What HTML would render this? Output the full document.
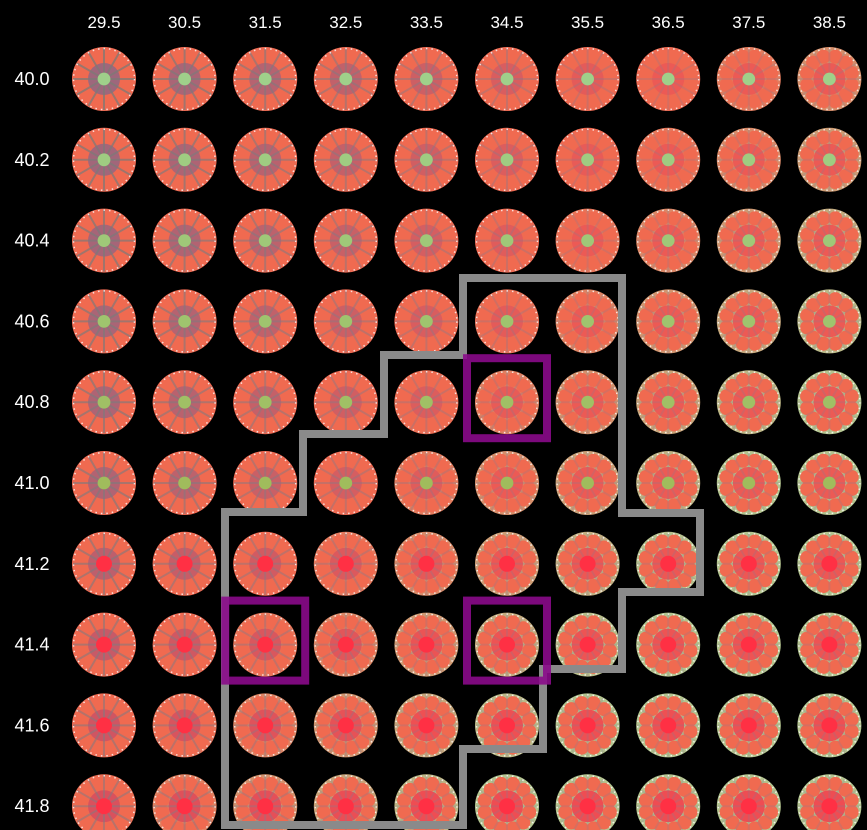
<!DOCTYPE html>
<html><head><meta charset="utf-8">
<style>
html,body{margin:0;padding:0;background:#000;width:867px;height:830px;overflow:hidden}
svg{display:block}
text{font-family:"Liberation Sans",sans-serif;fill:#fff}
</style></head>
<body>
<svg id="chart" width="867" height="830" viewBox="0 0 867 830" xmlns="http://www.w3.org/2000/svg">
<rect width="867" height="830" fill="#000"/>
<g id="cells"></g>
<g id="labels"></g>
<path id="region" fill="none" stroke="#8a8a8a" stroke-width="8" stroke-linejoin="miter"
 d="M463,278 L622,278 L622,513 L700,513 L700,592 L622,592 L622,669 L543,669 L543,749 L463,749 L463,825 L225,825 L225,512 L303,512 L303,434 L384,434 L384,355 L463,355 Z"/>
<g id="marks"></g>
</svg>
<script>
const colLabels = ["29.5","30.5","31.5","32.5","33.5","34.5","35.5","36.5","37.5","38.5"];
const rowLabels = ["40.0","40.2","40.4","40.6","40.8","41.0","41.2","41.4","41.6","41.8"];
const highlightCells = [[4,5],[7,2],[7,5]]; // [row, col]

const NS="http://www.w3.org/2000/svg";
function mk(tag,attrs,parent){const e=document.createElementNS(NS,tag);for(const k in attrs)e.setAttribute(k,attrs[k]);parent.appendChild(e);return e;}
const x0=104, dx=80.6, y0=79, dy=80.8, R=32;
function xPos(c){return x0+c*dx;}
function yPos(r){return y0+r*dy;}
function mix(a,b,t){const p=s=>[1,3,5].map(i=>parseInt(s.substr(i,2),16));const A=p(a),B=p(b);
  return "#"+A.map((v,i)=>Math.round(v+(B[i]-v)*t).toString(16).padStart(2,"0")).join("");}

const cells=document.getElementById('cells');
const labels=document.getElementById('labels');
colLabels.forEach((l,c)=>{
  const t=mk('text',{x:xPos(c),y:28,'text-anchor':'middle','font-size':'17'},labels);
  t.textContent=l;
  
  
});
rowLabels.forEach((l,r)=>{
  const t=mk('text',{x:32,y:yPos(r)+6,'text-anchor':'middle','font-size':'18'},labels);
  t.textContent=l;
  
  
});
rowLabels.forEach((rl,r)=>{
  colLabels.forEach((cl,c)=>{
    const cx=xPos(c), cy=yPos(r);
    const g=mk('g',{},cells);
    
    
    const green=Math.max(0,Math.min(1,(c+r*0.8-7)/5));
    const purple=Math.max(0,Math.min(1,(4-c*0.6-r*0.2)/4));
    mk('circle',{cx,cy,r:R,fill:mix("#ee6a52","#a8d49a",green*0.85)},g);
    for(let i=0;i<12;i++){const a=i*Math.PI/6+Math.PI/12;
      mk('circle',{cx:cx+Math.cos(a)*R*0.72,cy:cy+Math.sin(a)*R*0.72,r:R*0.22,fill:"#f06a50"},g);}
    const inner=mix(mix("#ec5a55","#7d6c8c",purple*0.7),"#f04050",Math.max(0,(r-5)/4)*0.5);
    mk('circle',{cx,cy,r:R*0.5,fill:inner},g);
    for(let i=0;i<12;i++){const a=i*Math.PI/6;
      mk('line',{x1:cx,y1:cy,x2:cx+Math.cos(a)*R*0.97,y2:cy+Math.sin(a)*R*0.97,stroke:mix("#8a7a90","#6a7a50",purple*0.4),'stroke-width':2,opacity:(0.25+purple*0.5).toFixed(2)},g);}
    const cc = r<=5 ? mix("#9fd08a","#a0b040",r/8) : "#ff3044";
    mk('circle',{cx,cy,r:R*(r<=5?0.2:0.25),fill:cc},g);
    mk('circle',{cx,cy,r:R-1.5,fill:'none',stroke:'#fff','stroke-width':1.5,'stroke-dasharray':'1.5 4',opacity:0.8},g);
  });
});
const marks=document.getElementById('marks');
highlightCells.forEach(([r,c])=>{
  const s=mk('rect',{x:xPos(c)-40,y:yPos(r)-44,width:80,height:80,fill:'none',stroke:'#8a0a8a','stroke-width':8,opacity:0.9},marks);
  
  
});
</script>
</body></html>
